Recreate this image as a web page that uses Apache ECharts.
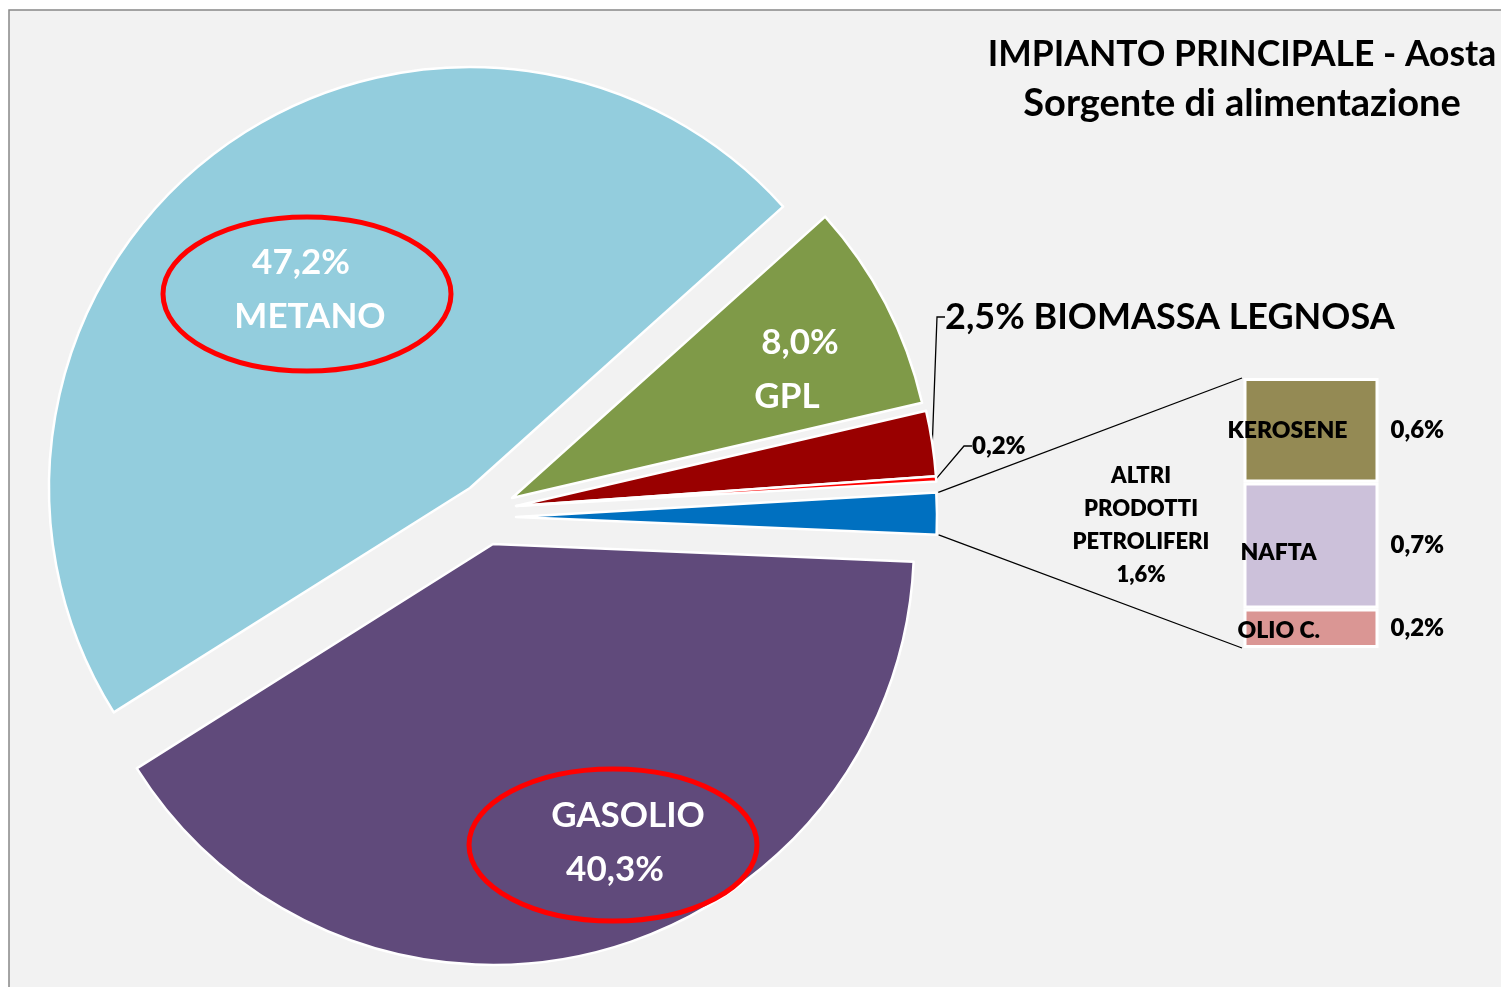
<!DOCTYPE html>
<html lang="it">
<head>
  <meta charset="UTF-8">
  <title>Impianto principale - Aosta</title>
  <script src="https://cdn.jsdelivr.net/npm/echarts@6/dist/echarts.min.js"></script>
</head>
<body style="margin: 0">
<div id="container" style="width: 1501px; height: 987px"></div>
<script type="text/javascript">
  var pieNames = ['METANO', 'GPL', 'BIOMASSA LEGNOSA', '', 'ALTRI PRODOTTI PETROLIFERI', 'GASOLIO'];
  var pieValues = [47.2, 8.0, 2.5, 0.2, 1.6, 40.3];
  var barNames = ['KEROSENE', 'NAFTA', 'OLIO C.'];
  var barValues = [0.58, 0.70, 0.22];

  var pieColors = ['#93cddd', '#7f9a48', '#990000', '#ff0000', '#0070c0', '#604a7b'];
  var barColors = ['#948a54', '#ccc1da', '#da9694'];
  // every slice is pulled out by a different amount, so each one gets its own centre
  var centers = [[470, 488], [512, 498], [516, 506], [516, 506], [516, 517], [493, 544]];
  var R = 421, START = 212.2, BARW = 135;
  var FONT = 'Lato';
  var SMALL_W = 800; // small black labels look heavier in the original

  function pct(v) { return v.toFixed(1).replace('.', ',') + '%'; }
  function sum(a) { return a.reduce(function (s, x) { return s + x; }, 0); }

  var big = { color: '#fff', fontFamily: FONT, fontWeight: 'bold', fontSize: 35, lineHeight: 54 };
  function bigRich() {
    return {
      n: Object.assign({}, big),
      l: Object.assign({ padding: [0, 0, 0, 26] }, big),
      r18: Object.assign({ padding: [0, 18, 0, 0] }, big),
      r26: Object.assign({ padding: [0, 26, 0, 0] }, big)
    };
  }
  var labels = [
    Object.assign({ show: true, position: 'inside', rich: bigRich(),
      formatter: function (p) { return '{r18|' + pct(p.value) + '}\n{n|' + p.name + '}'; } }, big),
    Object.assign({ show: true, position: 'inside', rich: bigRich(),
      formatter: function (p) { return '{l|' + pct(p.value) + '}\n{n|' + p.name + '}'; } }, big),
    { show: true, position: 'outside', formatter: function (p) { return pct(p.value) + ' ' + p.name; },
      color: '#000', fontFamily: FONT, fontWeight: 'bold', fontSize: 36 },
    { show: true, position: 'outside', formatter: function (p) { return pct(p.value); },
      color: '#000', fontFamily: FONT, fontWeight: SMALL_W, fontSize: 24 },
    { show: true, position: 'outside', formatter: function (p) { return 'ALTRI\nPRODOTTI\nPETROLIFERI\n' + pct(p.value); },
      color: '#000', fontFamily: FONT, fontWeight: SMALL_W, fontSize: 22, lineHeight: 33, align: 'center' },
    Object.assign({ show: true, position: 'inside', rich: bigRich(),
      formatter: function (p) { return '{n|' + p.name + '}\n{r26|' + pct(p.value) + '}'; } }, big)
  ];
  var leader = { show: true, length: 10, length2: 8, lineStyle: { color: '#000', width: 1.3 } };
  var lines = [null, null, leader, leader, null, null];
  var labelLayouts = [
    { x: 310, y: 290, align: 'center', verticalAlign: 'middle' },
    { x: 787, y: 370, align: 'center', verticalAlign: 'middle' },
    { x: 945, y: 317, align: 'left', verticalAlign: 'middle' },
    { x: 972, y: 446, align: 'left', verticalAlign: 'middle' },
    { x: 1141, y: 525, align: 'center', verticalAlign: 'middle' },
    { x: 628, y: 843, align: 'center', verticalAlign: 'middle' }
  ];

  var series = pieValues.map(function (v, i) {
    return {
      type: 'pie',
      center: centers[i],
      radius: R,
      startAngle: START,
      silent: true,
      avoidLabelOverlap: false,
      labelLayout: labelLayouts[i],
      data: pieValues.map(function (w, j) {
        var on = j === i;
        return {
          name: pieNames[j],
          value: w,
          itemStyle: on ? { color: pieColors[j], borderColor: '#fff', borderWidth: 2.5 }
                        : { color: 'rgba(0,0,0,0)', borderWidth: 0 },
          label: on ? labels[j] : { show: false },
          labelLine: on && lines[j] ? lines[j] : { show: false }
        };
      })
    };
  });

  var barTotal = sum(barValues);
  var namePos = [[-16, '50%'], [-3, '56%'], [-6, '57%']];
  // stacked from the bottom: OLIO C., NAFTA, KEROSENE
  [2, 1, 0].forEach(function (k) {
    series.push({
      type: 'bar', name: barNames[k], stack: 'altri', barWidth: BARW, silent: true,
      data: [barValues[k]],
      itemStyle: { color: barColors[k], borderColor: '#fff', borderWidth: 3 },
      label: { show: true, position: namePos[k], align: 'left', verticalAlign: 'middle',
        formatter: barNames[k], color: '#000', fontFamily: FONT, fontWeight: SMALL_W, fontSize: 23 }
    });
  });
  [2, 1, 0].forEach(function (k) {
    series.push({
      type: 'bar', stack: 'valori', barWidth: BARW, barGap: '-100%', silent: true,
      data: [barValues[k]],
      itemStyle: { color: 'rgba(0,0,0,0)' },
      label: { show: true, position: 'right', distance: 12,
        formatter: pct(barValues[k]), color: '#000', fontFamily: FONT, fontWeight: SMALL_W, fontSize: 24 }
    });
  });

  var chart = echarts.init(document.getElementById('container'), null, { renderer: 'canvas' });
  var option = {
    animation: false,
    backgroundColor: '#fff',
    title: {
      text: '{a|IMPIANTO PRINCIPALE - Aosta}\n{b|Sorgente di alimentazione}',
      left: 1242, top: 30, textAlign: 'center', padding: 0,
      textStyle: {
        fontFamily: FONT, fontWeight: 'bold', color: '#000',
        rich: {
          a: { fontFamily: FONT, fontWeight: 'bold', fontSize: 35.5, lineHeight: 49, color: '#000' },
          b: { fontFamily: FONT, fontWeight: 'bold', fontSize: 38, lineHeight: 50, color: '#000' }
        }
      }
    },
    grid: { left: 1243.5, top: 378, width: BARW, height: 270 },
    xAxis: { type: 'category', data: ['ALTRI'], show: false },
    yAxis: { type: 'value', min: 0, max: barTotal, show: false },
    graphic: [
      { type: 'rect', z: -10, shape: { x: 9, y: 10, width: 1600, height: 1100 },
        style: { fill: '#f2f2f2', stroke: '#888', lineWidth: 1.5 } },
      { type: 'ellipse', z: 100, shape: { cx: 307, cy: 294, rx: 144, ry: 77 },
        style: { fill: 'none', stroke: '#ff0000', lineWidth: 5 } },
      { type: 'ellipse', z: 100, shape: { cx: 613, cy: 845, rx: 144, ry: 76 },
        style: { fill: 'none', stroke: '#ff0000', lineWidth: 5 } }
    ],
    series: series
  };
  chart.setOption(option);

  // connector lines from the ALTRI slice to the stacked bar
  var total = sum(pieValues);
  var a0 = START - 360 * sum(pieValues.slice(0, 4)) / total;
  var a1 = a0 - 360 * pieValues[4] / total;
  var c = centers[4];
  function arcPt(a) {
    var r = R + 2, t = a * Math.PI / 180;
    return [c[0] + r * Math.cos(t), c[1] - r * Math.sin(t)];
  }
  var p0 = arcPt(a0), p1 = arcPt(a1);
  var bTop = chart.convertToPixel({ gridIndex: 0 }, [0, barTotal]);
  var bBot = chart.convertToPixel({ gridIndex: 0 }, [0, 0]);
  var bx = bTop[0] - BARW / 2 - 1.5;
  [[p0, bTop[1]], [p1, bBot[1]]].forEach(function (s) {
    chart.getZr().add(new echarts.graphic.Line({
      z: 50,
      shape: { x1: s[0][0], y1: s[0][1], x2: bx, y2: s[1] },
      style: { stroke: '#000', lineWidth: 1.3 }
    }));
  });

  window.addEventListener('resize', chart.resize);
</script>
</body>
</html>
